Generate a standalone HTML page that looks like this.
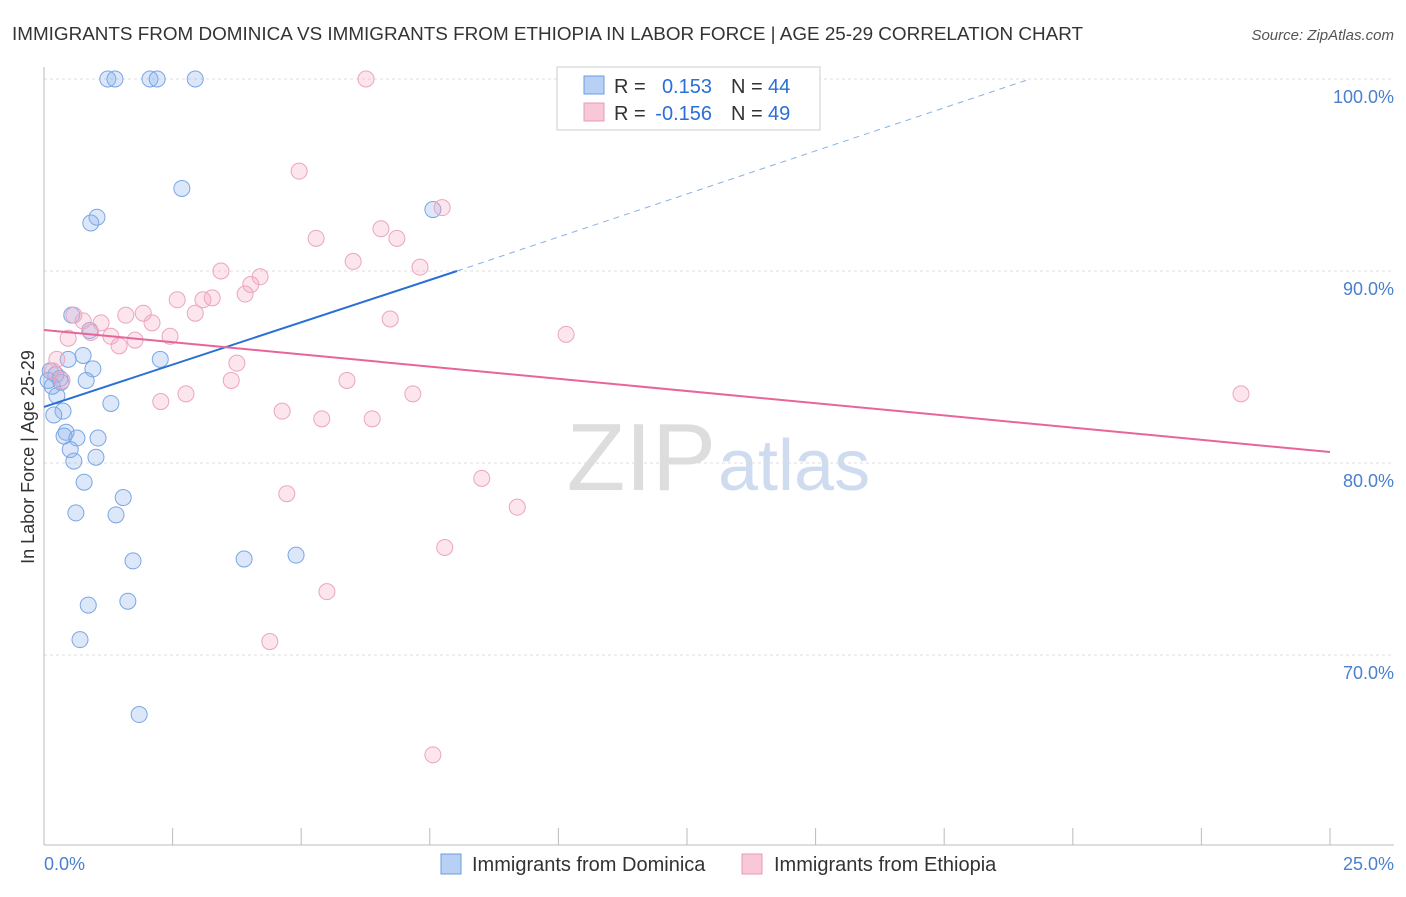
<!DOCTYPE html>
<html><head><meta charset="utf-8"><style>
body{margin:0;background:#fff;font-family:"Liberation Sans",sans-serif;}
svg text{font-family:"Liberation Sans",sans-serif;}
</style></head><body>
<svg width="1406" height="892">
<text x="12" y="40" font-size="18" fill="#333" textLength="1071" lengthAdjust="spacingAndGlyphs">IMMIGRANTS FROM DOMINICA VS IMMIGRANTS FROM ETHIOPIA IN LABOR FORCE | AGE 25-29 CORRELATION CHART</text>
<text x="1394" y="40" font-size="15" fill="#555" font-style="italic" text-anchor="end">Source: ZipAtlas.com</text>
<text x="716" y="490" font-size="96" fill="#ddd" text-anchor="end" font-family="Liberation Serif">ZIP</text>
<text x="718" y="490" font-size="72" fill="#cfdcf0">atlas</text>
<g id="grid"></g>
<g id="axes"></g>
<g id="pts"></g>
<g id="lines"></g>
<text transform="translate(34,457) rotate(-90)" font-size="18" fill="#333" text-anchor="middle">In Labor Force | Age 25-29</text>
<text x="44" y="870" font-size="18" fill="#4a7fd0">0.0%</text>
<text x="1394" y="870" font-size="18" fill="#4a7fd0" text-anchor="end">25.0%</text>
<g>
<rect x="557" y="67" width="263" height="63" fill="#fff" stroke="#ccc"/>
<rect x="584" y="76" width="20" height="18" fill="#b8d0f4" stroke="#6a9be0"/>
<rect x="584" y="103" width="20" height="18" fill="#f9c8d8" stroke="#e89ab4"/>
<text x="614" y="93" font-size="20" fill="#333">R =</text>
<text x="712" y="93" font-size="20" fill="#2a6fd6" text-anchor="end">0.153</text>
<text x="731" y="93" font-size="20" fill="#333">N =</text>
<text x="768" y="93" font-size="20" fill="#2a6fd6">44</text>
<text x="614" y="120" font-size="20" fill="#333">R =</text>
<text x="712" y="120" font-size="20" fill="#2a6fd6" text-anchor="end">-0.156</text>
<text x="731" y="120" font-size="20" fill="#333">N =</text>
<text x="768" y="120" font-size="20" fill="#2a6fd6">49</text>
</g>
<g>
<rect x="441" y="854" width="20" height="20" fill="#b8d0f4" stroke="#6a9be0"/>
<text x="472" y="871" font-size="20" fill="#333">Immigrants from Dominica</text>
<rect x="742" y="854" width="20" height="20" fill="#f9c8d8" stroke="#e89ab4"/>
<text x="774" y="871" font-size="20" fill="#333">Immigrants from Ethiopia</text>
</g>
</svg>
<script>
const yTicks=[70,80,90,100];
const blueX=[1.24,1.38,2.06,2.2,2.94,2.68,1.03,0.91,7.56,0.54,0.89,0.76,0.47,2.26,0.95,0.12,0.23,0.33,0.82,0.08,0.25,1.3,0.37,0.19,0.43,0.39,0.64,1.05,0.51,1.01,0.58,0.78,1.54,0.62,1.4,1.73,3.89,4.9,0.86,1.63,0.7,1.85,0.16,0.31];
const blueY=[100,100,100,100,100,94.3,92.8,92.5,93.2,87.7,86.9,85.6,85.4,85.4,84.9,84.8,84.6,84.2,84.3,84.3,83.5,83.1,82.7,82.5,81.6,81.4,81.3,81.3,80.7,80.3,80.1,79,78.2,77.4,77.3,74.9,75,75.2,72.6,72.8,70.8,66.9,84,84.4];
const pinkX=[6.26,4.96,7.74,5.29,6.55,6.86,6.01,7.31,3.44,4.2,4.02,3.91,2.59,3.09,3.27,2.94,0.58,0.76,1.93,1.59,1.11,2.1,0.91,0.47,1.3,1.77,1.46,2.45,6.73,10.15,0.25,3.75,0.17,0.35,3.64,5.89,2.27,2.76,7.17,4.63,5.4,6.38,23.27,8.51,4.72,9.2,7.79,5.5,4.39,7.56];
const pinkY=[100,95.2,93.3,91.7,92.2,91.7,90.5,90.2,90,89.7,89.3,88.8,88.5,88.5,88.6,87.8,87.7,87.4,87.8,87.7,87.3,87.3,86.8,86.5,86.6,86.4,86.1,86.6,87.5,86.7,85.4,85.2,84.8,84.3,84.3,84.3,83.2,83.6,83.6,82.7,82.3,82.3,83.6,79.2,78.4,77.7,75.6,73.3,70.7,64.8];
const blueFit=[[0,82.92],[8.03,90]], blueExt=[[8.03,90],[19.17,100]];
const pinkFit=[[0,86.93],[25,80.57]];
const NS="http://www.w3.org/2000/svg";
const xs=v=>44+v*51.44, ys=v=>79+(100-v)*19.2;
function mk(tag,attrs,parent){const e=document.createElementNS(NS,tag);for(const k in attrs)e.setAttribute(k,attrs[k]);document.getElementById(parent).appendChild(e);return e;}
yTicks.forEach(t=>{
 const g=mk('line',{x1:44,x2:1394,y1:ys(t),y2:ys(t),stroke:'#ddd','stroke-dasharray':'3,3'},'grid');
 
 
 const tx=mk('text',{x:1394,y:ys(t)+24,'font-size':18,fill:'#4a7fd0','text-anchor':'end'},'grid');
 tx.textContent=t.toFixed(1)+'%';
 
 
});
const ax=mk('line',{x1:44,x2:44,y1:67,y2:845,stroke:'#bbb'},'axes');


const bx=mk('line',{x1:44,x2:1394,y1:845,y2:845,stroke:'#bbb'},'axes');


for(let i=0;i<=10;i++){const t=mk('line',{x1:xs(i*2.5),x2:xs(i*2.5),y1:828,y2:845,stroke:'#bbb'},'axes');
 
 }
blueX.forEach((v,i)=>{const c=mk('circle',{cx:xs(v),cy:ys(blueY[i]),r:8,fill:'rgba(140,180,240,0.3)',stroke:'#7aa6e4','stroke-width':1},'pts');
 
 });
pinkX.forEach((v,i)=>{const c=mk('circle',{cx:xs(v),cy:ys(pinkY[i]),r:8,fill:'rgba(245,170,195,0.3)',stroke:'#eba5bd','stroke-width':1},'pts');
 
 });
function ln(p,attrs,name){const l=mk('line',Object.assign({x1:xs(p[0][0]),y1:ys(p[0][1]),x2:xs(p[1][0]),y2:ys(p[1][1])},attrs),'lines');
 
 }
ln(blueFit,{stroke:'#2a6fd6','stroke-width':2},'dominica-trend-line');
ln(blueExt,{stroke:'#8ab0e6','stroke-width':1,'stroke-dasharray':'6,5'},'dominica-trend-extension');
ln(pinkFit,{stroke:'#e8659a','stroke-width':2},'ethiopia-trend-line');
</script>
</body></html>
